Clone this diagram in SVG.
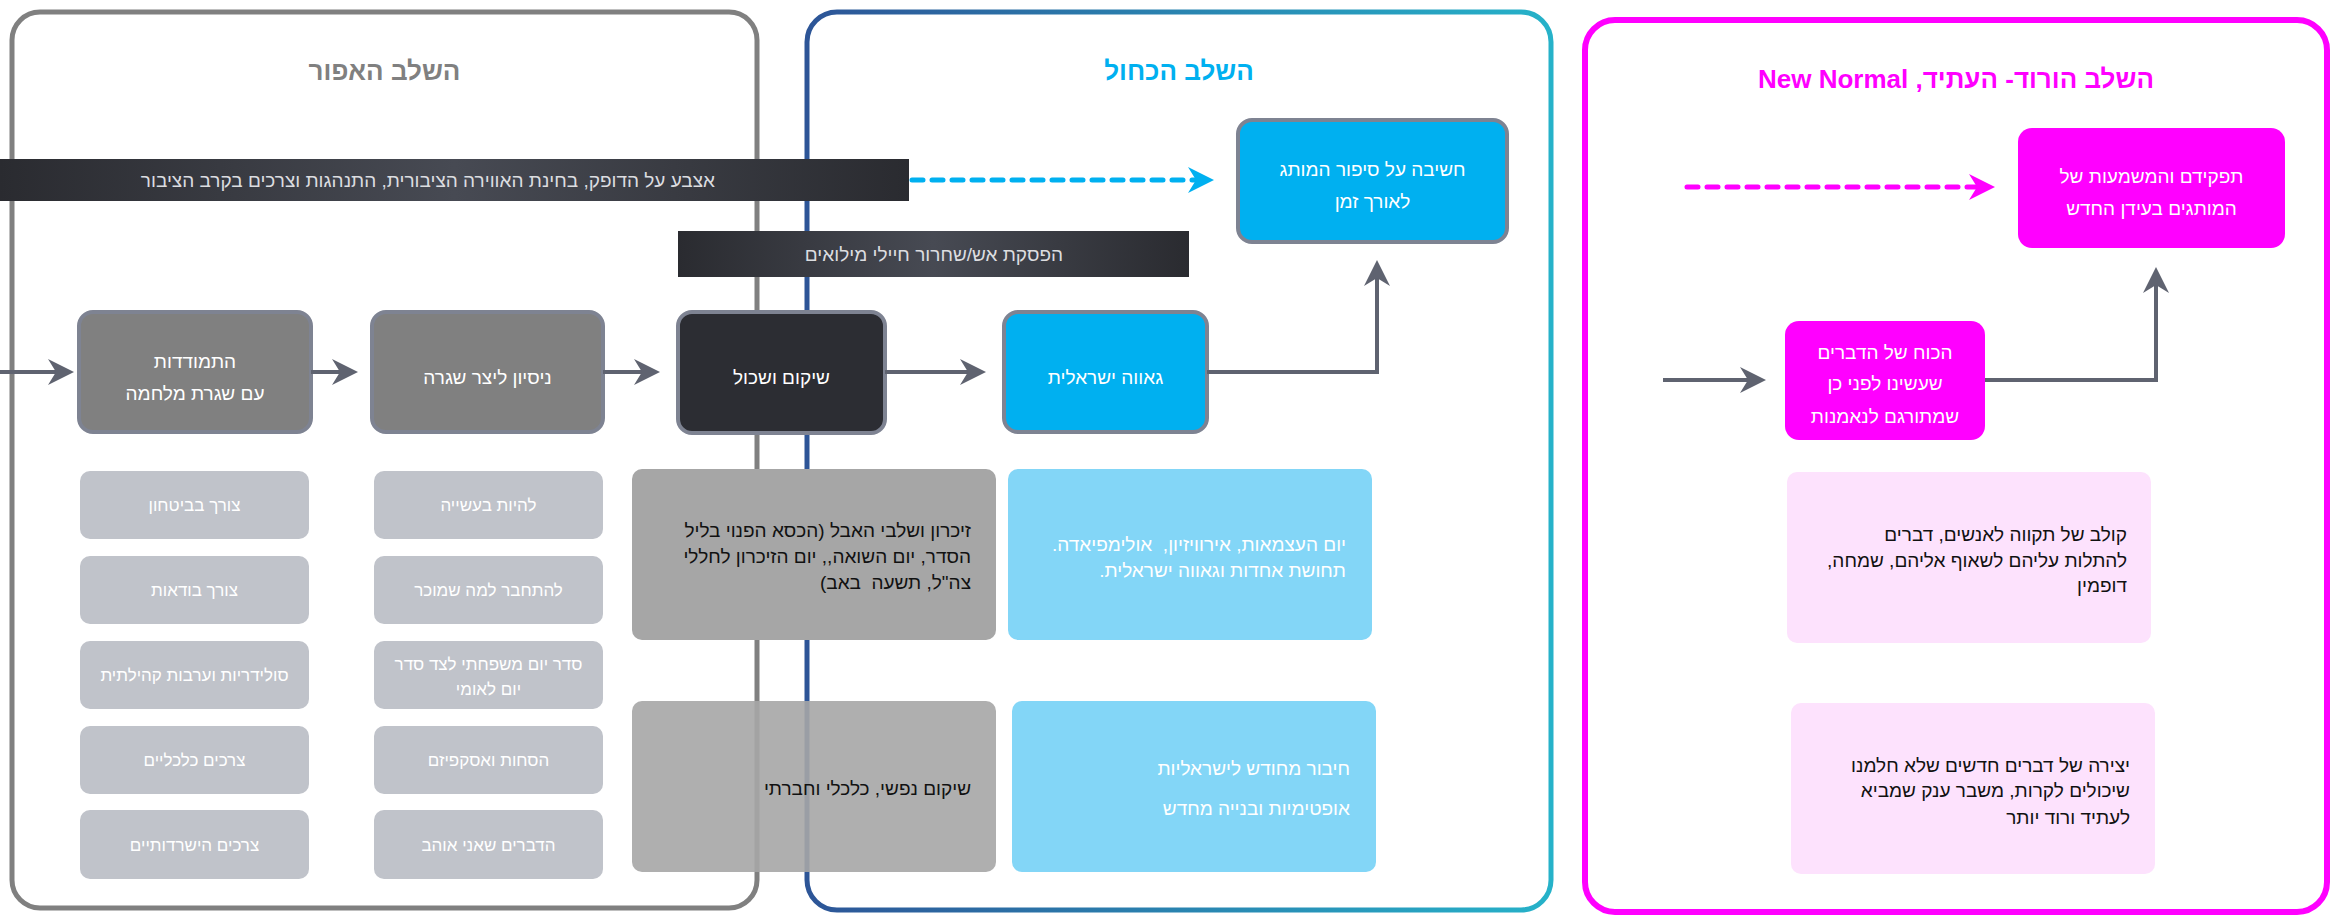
<svg xmlns="http://www.w3.org/2000/svg" width="2331" height="915" viewBox="0 0 2331 915">
<style>
text{font-family:"Liberation Sans","DejaVu Sans",sans-serif;direction:rtl;unicode-bidi:embed}
.title{font-size:26px;font-weight:bold;text-anchor:middle}
.c{text-anchor:middle}
.r{text-anchor:start}
.main{font-size:19px;fill:#ffffff}
.node{stroke:#7e8392;stroke-width:4}
.small{fill:#c0c3ca}
.smallt{font-size:17px;fill:#ffffff}
.bk{font-size:19px;fill:#111111}
.wt{font-size:19px;fill:#ffffff}
.band{font-size:19px;fill:#dcdde0}
.conn{fill:none;stroke:#5f6370;stroke-width:4}
</style>
<defs>
<linearGradient id="bandGrad" x1="0" y1="0" x2="1" y2="0">
<stop offset="0" stop-color="#2a2b30"/>
<stop offset="0.5" stop-color="#474a53"/>
<stop offset="1" stop-color="#2a2b30"/>
</linearGradient>
<linearGradient id="blueGrad" x1="807" y1="0" x2="1551" y2="0" gradientUnits="userSpaceOnUse">
<stop offset="0" stop-color="#2d5597"/>
<stop offset="1" stop-color="#26b2c9"/>
</linearGradient>
<marker id="ah" markerUnits="userSpaceOnUse" markerWidth="26" markerHeight="26" viewBox="0 0 26 26" refX="10" refY="13" orient="auto">
<path d="M0,0 L26,13 L0,26 L8,13 Z" fill="#5f6370"/>
</marker>
<marker id="ahBlue" markerUnits="userSpaceOnUse" markerWidth="26" markerHeight="26" viewBox="0 0 26 26" refX="10" refY="13" orient="auto">
<path d="M0,0 L26,13 L0,26 L8,13 Z" fill="#00b0f0"/>
</marker>
<marker id="ahPink" markerUnits="userSpaceOnUse" markerWidth="26" markerHeight="26" viewBox="0 0 26 26" refX="10" refY="13" orient="auto">
<path d="M0,0 L26,13 L0,26 L8,13 Z" fill="#ff00ff"/>
</marker>
</defs>
<rect width="2331" height="915" fill="#ffffff"/>

<g id="panel-gray">
<rect x="12" y="12" width="745" height="896" rx="28" fill="none" stroke="#808080" stroke-width="5"/>
<text class="title" x="384.5" y="80" fill="#808080">השלב האפור</text>
</g>
<g id="panel-blue">
<rect x="807" y="12" width="744" height="898" rx="30" fill="none" stroke="url(#blueGrad)" stroke-width="5"/>
<text class="title" x="1179" y="80" fill="#00b0f0">השלב הכחול</text>
</g>
<g id="panel-pink">
<rect x="1585" y="20" width="742" height="892" rx="30" fill="none" stroke="#ff00ff" stroke-width="6"/>
<text class="title" x="1956" y="88" fill="#ff00ff">השלב הורוד- העתיד, New Normal</text>
</g>

<g id="banner-pulse">
<rect x="0" y="159" width="909" height="42" fill="url(#bandGrad)"/>
<text class="band r" x="715" y="187">אצבע על הדופק, בחינת האווירה הציבורית, התנהגות וצרכים בקרב הציבור</text>
</g>
<g id="banner-ceasefire">
<rect x="678" y="231" width="511" height="46" fill="url(#bandGrad)"/>
<text class="band c" x="934" y="261">הפסקת אש/שחרור חיילי מילואים</text>
</g>

<g id="node-coping">
<rect class="node" x="79" y="312" width="232" height="120" rx="14" fill="#808080"/>
<text class="main c" x="195" y="368">התמודדות</text>
<text class="main c" x="195" y="400">עם שגרת מלחמה</text>
</g>
<g id="node-routine">
<rect class="node" x="372" y="312" width="231" height="120" rx="14" fill="#808080"/>
<text class="main c" x="487.5" y="384">ניסיון ליצר שגרה</text>
</g>
<g id="node-rehab">
<rect class="node" x="678" y="312" width="207" height="121" rx="14" fill="#2c2d33"/>
<text class="main c" x="781.5" y="384">שיקום ושכול</text>
</g>
<g id="node-pride">
<rect class="node" x="1004" y="312" width="203" height="120" rx="14" fill="#00b0f0"/>
<text class="main c" x="1105.5" y="384">גאווה ישראלית</text>
</g>
<g id="node-story">
<rect class="node" x="1238" y="120" width="269" height="122" rx="14" fill="#00b0f0"/>
<text class="main c" x="1372.5" y="176">חשיבה על סיפור המותג</text>
<text class="main c" x="1372.5" y="208">לאורך זמן</text>
</g>
<g id="node-role">
<rect x="2018" y="128" width="267" height="120" rx="14" fill="#ff00ff"/>
<text class="main c" x="2151.5" y="183">תפקידם והמשמעות של</text>
<text class="main c" x="2151.5" y="215">המותגים בעידן החדש</text>
</g>
<g id="node-power">
<rect x="1785" y="321" width="200" height="119" rx="14" fill="#ff00ff"/>
<text class="main c" x="1885" y="359">הכוח של הדברים</text>
<text class="main c" x="1885" y="390">שעשינו לפני כן</text>
<text class="main c" x="1885" y="423">שמתורגם לנאמנות</text>
</g>

<g id="need-1"><rect class="small" x="80" y="471" width="229" height="68" rx="10"/><text class="smallt c" x="194.5" y="511">צורך בביטחון</text></g>
<g id="need-2"><rect class="small" x="80" y="556" width="229" height="68" rx="10"/><text class="smallt c" x="194.5" y="596">צורך בודאות</text></g>
<g id="need-3"><rect class="small" x="80" y="641" width="229" height="68" rx="10"/><text class="smallt c" x="194.5" y="681">סולידריות וערבות קהילתית</text></g>
<g id="need-4"><rect class="small" x="80" y="726" width="229" height="68" rx="10"/><text class="smallt c" x="194.5" y="766">צרכים כלכליים</text></g>
<g id="need-5"><rect class="small" x="80" y="810" width="229" height="69" rx="10"/><text class="smallt c" x="194.5" y="851">צרכים הישרדותיים</text></g>

<g id="routine-1"><rect class="small" x="374" y="471" width="229" height="68" rx="10"/><text class="smallt c" x="488.5" y="511">להיות בעשייה</text></g>
<g id="routine-2"><rect class="small" x="374" y="556" width="229" height="68" rx="10"/><text class="smallt c" x="488.5" y="596">להתחבר למה שמוכר</text></g>
<g id="routine-3"><rect class="small" x="374" y="641" width="229" height="68" rx="10"/><text class="smallt c" x="488.5" y="670">סדר יום משפחתי לצד סדר</text><text class="smallt c" x="488.5" y="695">יום לאומי</text></g>
<g id="routine-4"><rect class="small" x="374" y="726" width="229" height="68" rx="10"/><text class="smallt c" x="488.5" y="766">הסחות ואסקפיזם</text></g>
<g id="routine-5"><rect class="small" x="374" y="810" width="229" height="69" rx="10"/><text class="smallt c" x="488.5" y="851">הדברים שאני אוהב</text></g>

<g id="rehab-memory">
<rect x="632" y="469" width="364" height="171" rx="10" fill="#a6a6a6"/>
<text class="bk r" x="971" y="537" xml:space="preserve">זיכרון ושלבי האבל (הכסא הפנוי בליל</text>
<text class="bk r" x="971" y="563" xml:space="preserve">הסדר, יום השואה,, יום הזיכרון לחללי</text>
<text class="bk r" x="971" y="589" xml:space="preserve">צה"ל, תשעה  באב)</text>
</g>
<g id="rehab-social">
<rect x="632" y="701" width="364" height="171" rx="10" fill="#a6a6a6" fill-opacity="0.9"/>
<text class="bk r" x="971" y="795">שיקום נפשי, כלכלי וחברתי</text>
</g>
<g id="pride-events">
<rect x="1008" y="469" width="364" height="171" rx="10" fill="#83d6f7"/>
<text class="wt r" x="1346" y="551" xml:space="preserve">יום העצמאות, אירוויזיון,  אולימפיאדה.</text>
<text class="wt r" x="1346" y="577">תחושת אחדות וגאווה ישראלית.</text>
</g>
<g id="pride-reconnect">
<rect x="1012" y="701" width="364" height="171" rx="10" fill="#83d6f7"/>
<text class="wt r" x="1350" y="775">חיבור מחודש לישראליות</text>
<text class="wt r" x="1350" y="815">אופטימיות ובנייה מחדש</text>
</g>
<g id="future-hope">
<rect x="1787" y="472" width="364" height="171" rx="10" fill="#fde2fd"/>
<text class="bk r" x="2127" y="541">קולב של תקווה לאנשים, דברים</text>
<text class="bk r" x="2127" y="567">להתלות עליהם לשאוף אליהם, שמחה,</text>
<text class="bk r" x="2127" y="592">דופמין</text>
</g>
<g id="future-create">
<rect x="1791" y="703" width="364" height="171" rx="10" fill="#fde2fd"/>
<text class="bk r" x="2130" y="772">יצירה של דברים חדשים שלא חלמנו</text>
<text class="bk r" x="2130" y="797">שיכולים לקרות, משבר ענק שמביא</text>
<text class="bk r" x="2130" y="824">לעתיד ורוד יותר</text>
</g>

<g id="connectors">
<line class="conn" x1="0" y1="372" x2="58" y2="372" marker-end="url(#ah)"/>
<line class="conn" x1="311" y1="372" x2="342" y2="372" marker-end="url(#ah)"/>
<line class="conn" x1="603" y1="372" x2="644" y2="372" marker-end="url(#ah)"/>
<line class="conn" x1="885" y1="372" x2="970" y2="372" marker-end="url(#ah)"/>
<polyline class="conn" points="1207,372 1377,372 1377,276" marker-end="url(#ah)"/>
<line class="conn" x1="1663" y1="380" x2="1750" y2="380" marker-end="url(#ah)"/>
<polyline class="conn" points="1985,380 2156,380 2156,283" marker-end="url(#ah)"/>
<line x1="912" y1="180" x2="1198" y2="180" stroke="#00b0f0" stroke-width="5" stroke-dasharray="11 9" stroke-linecap="round" marker-end="url(#ahBlue)"/>
<line x1="1687" y1="187" x2="1979" y2="187" stroke="#ff00ff" stroke-width="5" stroke-dasharray="11 9" stroke-linecap="round" marker-end="url(#ahPink)"/>
</g>
</svg>
